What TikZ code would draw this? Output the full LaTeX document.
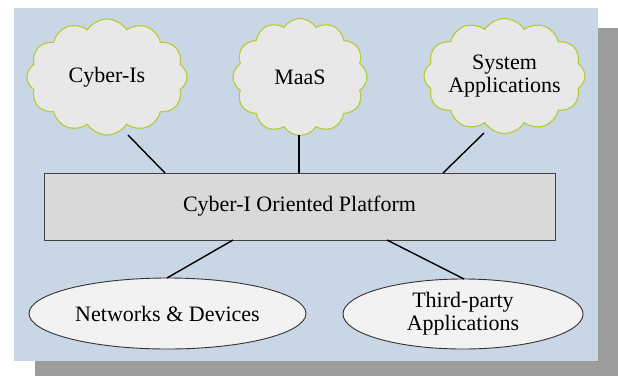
\documentclass[tikz,border=0pt]{standalone}
\usepackage{fontspec}
\setmainfont{Liberation Serif}
\usetikzlibrary{shapes.symbols,shapes.geometric}
\definecolor{panelblue}{HTML}{C8D6E5}
\definecolor{shadowgray}{HTML}{9C9C9C}
\definecolor{cloudfill}{HTML}{E8E8E8}
\definecolor{cloudline}{HTML}{B5CC2E}
\definecolor{boxfill}{HTML}{D9D9D9}
\definecolor{ovalfill}{HTML}{F2F2F2}
\tikzset{
  lbl/.style={font=\fontsize{22}{23}\selectfont, align=center, text=black},
  puff/.style={cloud, cloud puffs=12, cloud puff arc=115, draw=cloudline,
    fill=cloudfill, line width=1.1pt, inner sep=0pt},
  platform/.style={lbl, rectangle, draw=black!75, fill=boxfill, line width=1pt,
    minimum width=511pt, minimum height=67pt, inner sep=0pt},
  oval/.style={lbl, ellipse, draw=black!80, fill=ovalfill, line width=0.9pt, inner sep=0pt},
  link/.style={draw=black, line width=1.4pt}
}
\begin{document}
\begin{tikzpicture}[x=1pt,y=-1pt]
  \useasboundingbox (0,0) rectangle (618,376);
  % drop shadow and panel
  \fill[shadowgray] (35,28) rectangle (618,376);
  \fill[panelblue] (14,8) rectangle (598,361);
  % clouds, sized by their outline; the caption sits at the centre
  \node[puff, minimum width=160pt, minimum height=116pt,
        label={[lbl]center:Cyber-Is}] (cyber) at (107,77) {};
  \node[puff, minimum width=134pt, minimum height=117pt,
        label={[lbl]center:MaaS}] (maas) at (300,77) {};
  \node[puff, minimum width=161pt, minimum height=115pt,
        label={[lbl]center:System\\Applications}] (sysapp) at (504.5,76) {};
  % platform
  \node[platform] (plat) at (299.5,206.5) {Cyber-I Oriented Platform};
  % ellipses
  \node[oval, minimum width=277pt, minimum height=71pt] (net) at (167.5,313.5) {Networks \& Devices};
  \node[oval, minimum width=240pt, minimum height=70pt] (third) at (463,314) {Third-party\\Applications};
  % connectors
  \coordinate (c1) at (128,135);
  \coordinate (c2) at (299,135);
  \coordinate (c3) at (484,133);
  \coordinate (p1) at (165,173);
  \coordinate (p2) at (299,173);
  \coordinate (p3) at (443,173);
  \coordinate (p4) at (233,240);
  \coordinate (p5) at (387,240);
  \coordinate (e1) at (167,278);
  \coordinate (e2) at (464,279);
  \draw[link] (c1) -- (p1);
  \draw[link] (c2) -- (p2);
  \draw[link] (c3) -- (p3);
  \draw[link] (p4) -- (e1);
  \draw[link] (p5) -- (e2);
\end{tikzpicture}
\end{document}
